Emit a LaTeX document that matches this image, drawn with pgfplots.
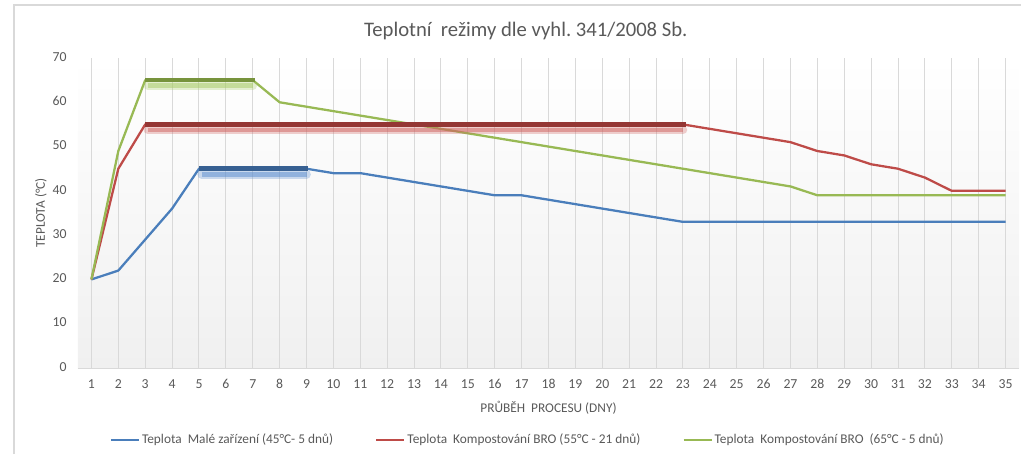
\documentclass[border=0pt]{standalone}
\usepackage{fontspec}
\setmainfont{Carlito}
\usepackage{pgfplots}
\pgfplotsset{compat=1.18}
\usetikzlibrary{calc}
\frenchspacing
\definecolor{cblue}{HTML}{4A7EBB}
\definecolor{cred}{HTML}{BE4B48}
\definecolor{cgreen}{HTML}{98B954}
\definecolor{dblue}{HTML}{376092}
\definecolor{dred}{HTML}{943634}
\definecolor{dgreen}{HTML}{77933C}
\definecolor{sblue}{HTML}{5B8ED0}
\definecolor{sred}{HTML}{D06562}
\definecolor{sgreen}{HTML}{A8CC66}
\definecolor{cgrid}{HTML}{D9D9D9}
\definecolor{ctext}{HTML}{595959}
\definecolor{cbg}{HTML}{F0F0F0}
\begin{document}
\begin{tikzpicture}
\begin{axis}[name=ax, at={(0,0)}, anchor=south west,
  scale only axis, width=705.75pt, height=232.5pt,
  xmin=0.5, xmax=35.5, ymin=0, ymax=70,
  xtick={1,...,35}, ytick={0,10,...,70},
  axis x line=bottom, axis y line=left,
  x axis line style={draw=cgrid, line width=0.75pt, -},
  y axis line style={draw=none},
  major tick length=0pt,
  xmajorgrids, grid style={draw=cgrid, line width=0.75pt},
  tick label style={font=\fontsize{10.3}{12}\selectfont, color=ctext},
  /pgf/number format/assume math mode=true,
  typeset ticklabels with strut,
  yticklabel style={xshift=-5pt},
  xticklabel style={yshift=-3.5pt},
  xlabel={PRŮBĚH\ \ PROCESU (DNY)},
  ylabel={TEPLOTA (°C)},
  label style={font=\fontsize{10}{12}\selectfont, color=ctext},
  xlabel style={at={(axis description cs:0.5,-0.129)}, anchor=center},
  ylabel style={at={(axis description cs:-0.0393,0.5)}, anchor=center},
  axis background/.style={shade, top color=white, bottom color=cbg},
  legend columns=3,
  legend style={at={(axis description cs:0.478,-0.232)}, anchor=center,
    draw=none, fill=none, font=\fontsize{10}{12}\selectfont, text=ctext,
    /tikz/every even column/.append style={column sep=30pt},
    nodes={inner sep=1.5pt}},
  legend image code/.code={\draw[#1] (0pt,0pt) -- (21pt,0pt);},
]
\addplot[cblue, line width=1.7pt, line join=round] coordinates {
(1,20)(2,22)(3,29)(4,36)(5,45)(6,45)(7,45)(8,45)(9,45)(10,44)(11,44)(12,43)
(13,42)(14,41)(15,40)(16,39)(17,39)(18,38)(19,37)(20,36)(21,35)(22,34)(23,33)
(24,33)(25,33)(26,33)(27,33)(28,33)(29,33)(30,33)(31,33)(32,33)(33,33)(34,33)(35,33)};
\addlegendentry{Teplota\ \ Malé zařízení (45°C- 5 dnů)}
\addplot[cred, line width=1.7pt, line join=round] coordinates {
(1,20)(2,45)(3,55)(4,55)(5,55)(6,55)(7,55)(8,55)(9,55)(10,55)(11,55)(12,55)
(13,55)(14,55)(15,55)(16,55)(17,55)(18,55)(19,55)(20,55)(21,55)(22,55)(23,55)
(24,54)(25,53)(26,52)(27,51)(28,49)(29,48)(30,46)(31,45)(32,43)(33,40)(34,40)(35,40)};
\addlegendentry{Teplota\ \ Kompostování BRO (55°C - 21 dnů)}
\addplot[cgreen, line width=1.7pt, line join=round] coordinates {
(1,20)(2,49)(3,65)(4,65)(5,65)(6,65)(7,65)(8,60)(9,59)(10,58)(11,57)(12,56)
(13,55)(14,54)(15,53)(16,52)(17,51)(18,50)(19,49)(20,48)(21,47)(22,46)(23,45)
(24,44)(25,43)(26,42)(27,41)(28,39)(29,39)(30,39)(31,39)(32,39)(33,39)(34,39)(35,39)};
\addlegendentry{Teplota\ \ Kompostování BRO\ \ (65°C - 5 dnů)}
% shadows
\addplot[forget plot, sgreen, opacity=0.3, line width=6.5pt, line cap=round] coordinates {(3.1,63.75)(7.0,63.75)};
\addplot[forget plot, sgreen, opacity=0.5, line width=3.5pt, line cap=butt] coordinates {(3.1,63.75)(7.0,63.75)};
\addplot[forget plot, sred, opacity=0.3, line width=6.5pt, line cap=round] coordinates {(3.1,53.75)(23.0,53.75)};
\addplot[forget plot, sred, opacity=0.5, line width=3.5pt, line cap=butt] coordinates {(3.1,53.75)(23.0,53.75)};
\addplot[forget plot, sblue, opacity=0.3, line width=6.5pt, line cap=round] coordinates {(5.1,43.75)(9.0,43.75)};
\addplot[forget plot, sblue, opacity=0.5, line width=3.5pt, line cap=butt] coordinates {(5.1,43.75)(9.0,43.75)};
% thick bars
\addplot[forget plot, dgreen, line width=3.4pt, line cap=butt] coordinates {(3,65)(7.1,65)};
\addplot[forget plot, dred, line width=3.4pt, line cap=butt] coordinates {(3,55)(23.1,55)};
\addplot[forget plot, dblue, line width=3.4pt, line cap=butt] coordinates {(5,45)(9.05,45)};
\end{axis}
\node[font=\fontsize{15.5}{18}\selectfont, text=ctext, anchor=center] at ($(ax.north)+(-17pt,20.5pt)$) {Teplotní\ \ režimy dle vyhl. 341/2008 Sb.};
\draw[cgrid, line width=1pt] ($(ax.south west)+(-48pt,-64.5pt)$) -- ($(ax.south west)+(-48pt,272.25pt)$) -- ($(ax.south west)+(707.25pt,272.25pt)$);
\path[use as bounding box] ($(ax.south west)+(-58.5pt,-64.5pt)$) rectangle ($(ax.south west)+(708pt,276pt)$);
\end{tikzpicture}
\end{document}
